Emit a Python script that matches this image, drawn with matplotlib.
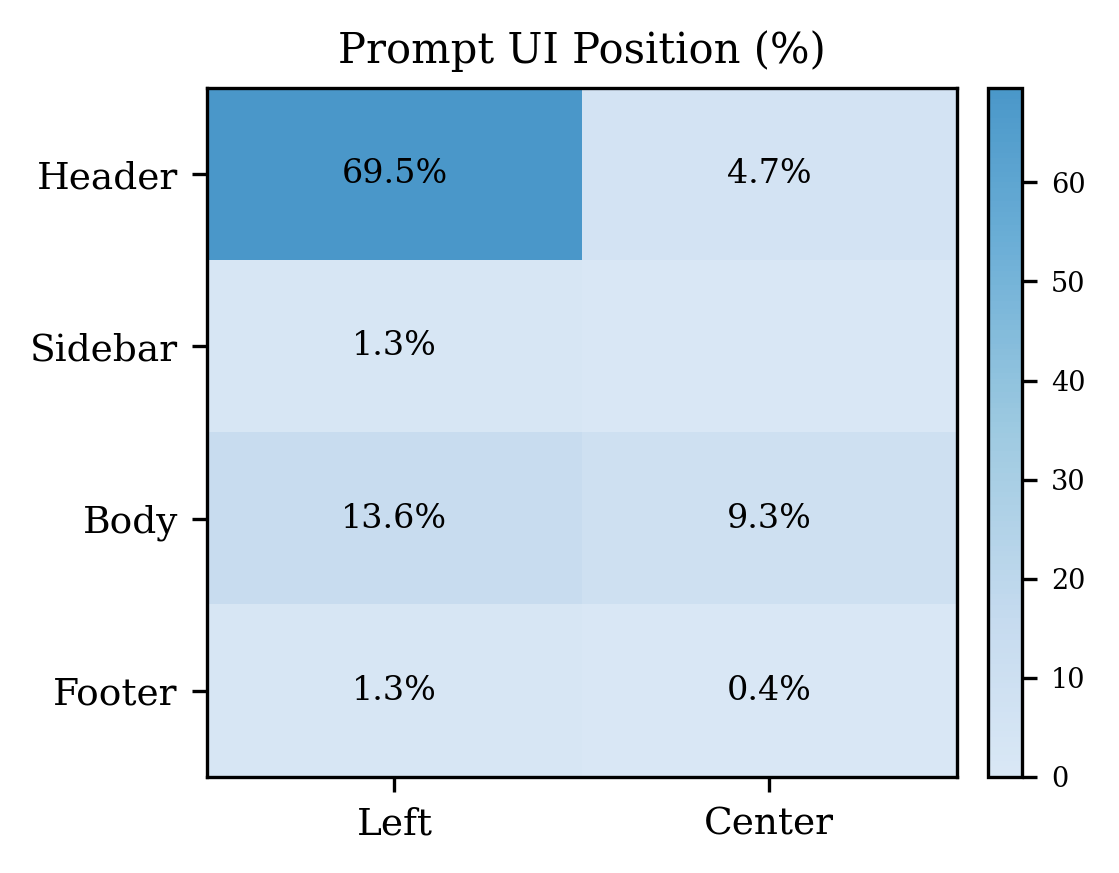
import numpy as np
import matplotlib.pyplot as plt
from matplotlib.colors import LinearSegmentedColormap

plt.rcParams['font.family'] = 'DejaVu Serif'

rows = ['Header', 'Sidebar', 'Body', 'Footer']
cols = ['Left', 'Center']
left = [69.5, 1.3, 13.6, 1.3]
center = [4.7, 0.0, 9.3, 0.4]

data = np.array([left, center]).T

blues = plt.get_cmap('Blues')
cmap = LinearSegmentedColormap.from_list('blues_mid', blues(np.linspace(0.15, 0.6, 256)))

fig = plt.figure(figsize=(3.73, 2.91), dpi=300)
ax = fig.add_axes([0.185, 0.110, 0.670, 0.789])
cax = fig.add_axes([0.883, 0.110, 0.030, 0.789])

im = ax.imshow(data, cmap=cmap, aspect='auto', vmin=0, vmax=data.max())

for i in range(len(rows)):
    for j in range(len(cols)):
        if data[i, j] > 0:
            ax.text(j, i, f'{data[i, j]:.1f}%', ha='center', va='center', fontsize=8)

ax.set_xticks(range(len(cols)))
ax.set_xticklabels(cols, fontsize=9)
ax.set_yticks(range(len(rows)))
ax.set_yticklabels(rows, fontsize=9)
ax.set_title('Prompt UI Position (%)', fontsize=10, pad=6)

cb = fig.colorbar(im, cax=cax)
cb.ax.tick_params(labelsize=6.5)
cb.outline.set_linewidth(0.8)

plt.savefig('out.png', dpi=300)
